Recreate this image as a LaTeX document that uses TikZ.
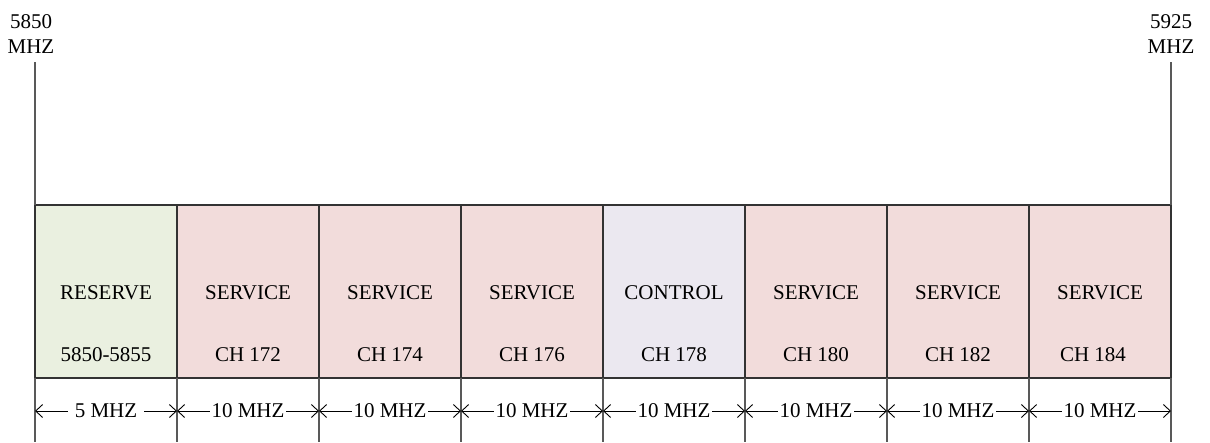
\documentclass[tikz,border=0pt]{standalone}
\usepackage{fontspec}
\setmainfont{Liberation Serif}
\usetikzlibrary{arrows.meta}
\definecolor{reservecol}{RGB}{234,240,224}
\definecolor{servicecol}{RGB}{242,220,219}
\definecolor{controlcol}{RGB}{235,232,240}
\begin{document}
\begin{tikzpicture}[x=1pt,y=-1pt,
  font=\fontsize{21}{25}\selectfont,
  chan/.style={draw=black!80, line width=1.2pt, minimum width=142pt, minimum height=173pt,
    anchor=north west, inner sep=0pt, outer sep=0pt},
  guide/.style={draw=black!65, line width=1.1pt},
  dim/.style={draw=black, line width=0.9pt, -{Straight Barb[length=7pt,width=13pt]}},
  lbl/.style={inner sep=1.5pt},
  txt/.style={inner sep=0pt}]
\useasboundingbox (0,0) rectangle (1210,442);

% channel boxes
\foreach \i/\col/\top/\bot/\dx in {0/reservecol/RESERVE/5850-5855/0,
  1/servicecol/SERVICE/CH 172/0, 2/servicecol/SERVICE/CH 174/0, 3/servicecol/SERVICE/CH 176/0,
  4/controlcol/CONTROL/CH 178/0, 5/servicecol/SERVICE/CH 180/0, 6/servicecol/SERVICE/CH 182/0,
  7/servicecol/SERVICE/CH 184/-7}{
  \node[chan, fill=\col] (b\i) at ({35+142*\i},205) {};
  \node[txt] (t\i) at ([yshift=-88pt]b\i.north) {\top};
  \node[txt] (c\i) at ([yshift=-150pt,xshift=\dx pt]b\i.north) {\bot};
}

% frequency marks
\node[txt, align=center] (f1) at (31,34) {5850\\MHZ};
\node[txt, align=center] (f2) at (1171,34) {5925\\MHZ};
\coordinate (g0) at (35,62);
\coordinate (g8) at (1171,62);

% guide lines
\foreach \i in {0,...,8}{
  \coordinate (m\i) at ({35+142*\i},411);
  \coordinate (e\i) at ({35+142*\i},442);
}
\draw[guide] (g0) -- (b0.north west);
\draw[guide] (g8) -- (b7.north east);
\foreach \i in {0,...,7}{
  \draw[guide] (b\i.south west) -- (e\i);
}
\draw[guide] (b7.south east) -- (e8);

% dimension labels
\node[inner sep=7pt] (d0) at ({35+71},411) {5 MHZ};
\draw[dim] (d0.west) -- (m0);
\draw[dim] (d0.east) -- (m1);
\foreach \i [evaluate=\i as \j using int(\i+1)] in {1,...,7}{
  \node[lbl] (d\i) at ({35+142*\i+71},411) {10 MHZ};
  \draw[dim] (d\i.west) -- (m\i);
  \draw[dim] (d\i.east) -- (m\j);
}
\end{tikzpicture}
\end{document}
